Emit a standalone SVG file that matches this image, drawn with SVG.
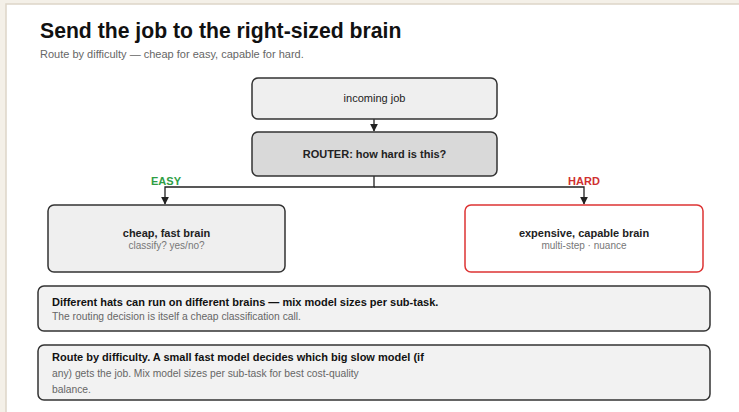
<svg xmlns="http://www.w3.org/2000/svg" width="739" height="412" viewBox="0 0 739 412">
<defs>
<marker id="arr" viewBox="0 0 10 10" refX="9" refY="5" markerWidth="8" markerHeight="8" markerUnits="userSpaceOnUse" orient="auto">
<path d="M0,0 L10,5 L0,10 z" fill="#222"/>
</marker>
<style>
text{font-family:"Liberation Sans",Arial,sans-serif;}
.box{fill:#efefef;stroke:#333;stroke-width:1.5;}
.t{font-size:11px;fill:#222;text-anchor:middle;}
.b{font-weight:bold;}
.s{font-size:10px;fill:#777;text-anchor:middle;}
.nb{font-size:11px;font-weight:bold;fill:#111;}
.ns{font-size:10.3px;fill:#666;}
.line{fill:none;stroke:#222;stroke-width:1.3;}
</style>
</defs>
<rect width="739" height="412" fill="#f4f0e8"/>
<rect x="6" y="4" width="740" height="420" fill="#fff" stroke="#ddd5c8" stroke-width="1.5"/>
<text x="40" y="38" font-size="21.2" font-weight="bold" fill="#111">Send the job to the right-sized brain</text>
<text x="40" y="58" font-size="11" fill="#666">Route by difficulty — cheap for easy, capable for hard.</text>
<g id="connectors">
<line class="line" x1="374" y1="119" x2="374" y2="131" marker-end="url(#arr)"/>
<path class="line" d="M374,176 V187 H165 V204" marker-end="url(#arr)"/>
<path class="line" d="M374,187 H584 V204" marker-end="url(#arr)"/>
<text x="166" y="185" font-size="11" font-weight="bold" fill="#2e9e44" text-anchor="middle">EASY</text>
<text x="584" y="185" font-size="11" font-weight="bold" fill="#d03030" text-anchor="middle">HARD</text>
</g>
<g id="incoming">
<rect class="box" x="252" y="78" width="245" height="41" rx="6"/>
<text class="t" x="374.5" y="102">incoming job</text>
</g>
<g id="router">
<rect class="box" x="252" y="132" width="245" height="44" rx="6" style="fill:#d9d9d9"/>
<text class="t b" x="374.5" y="158">ROUTER: how hard is this?</text>
</g>
<g id="cheap">
<rect class="box" x="48" y="205" width="237" height="67" rx="6"/>
<text class="t b" x="166.5" y="237">cheap, fast brain</text>
<text class="s" x="166.5" y="249">classify? yes/no?</text>
</g>
<g id="expensive">
<rect class="box" x="465" y="205" width="238" height="67" rx="6" style="fill:#fff;stroke:#d33"/>
<text class="t b" x="584" y="237">expensive, capable brain</text>
<text class="s" x="584" y="249">multi-step · nuance</text>
</g>
<g id="note1">
<rect class="box" x="38" y="286" width="672" height="45" rx="6" style="fill:#f2f2f2"/>
<text class="nb" x="52" y="306">Different hats can run on different brains — mix model sizes per sub-task.</text>
<text class="ns" x="52" y="320">The routing decision is itself a cheap classification call.</text>
</g>
<g id="note2">
<rect class="box" x="38" y="345" width="672" height="55" rx="6" style="fill:#f2f2f2"/>
<text class="nb" x="52" y="361">Route by difficulty. A small fast model decides which big slow model (if</text>
<text class="ns" x="52" y="377">any) gets the job. Mix model sizes per sub-task for best cost-quality</text>
<text class="ns" x="52" y="393">balance.</text>
</g>
</svg>
